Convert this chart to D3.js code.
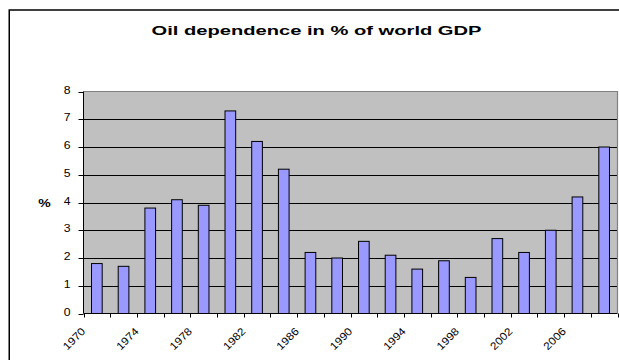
<!DOCTYPE html>
<html>
<head>
<meta charset="utf-8">
<script src="https://cdn.jsdelivr.net/npm/d3@7"></script>
<style>
  body { margin: 0; background: #fff; }
  text { font-family: "Liberation Sans", Arial, sans-serif; }
</style>
</head>
<body>
<div id="chart"></div>
<script>
// data
var years = [1970, 1972, 1974, 1976, 1978, 1980, 1982, 1984, 1986, 1988,
             1990, 1992, 1994, 1996, 1998, 2000, 2002, 2004, 2006, 2008];
var values = [1.8, 1.7, 3.8, 4.1, 3.9, 7.3, 6.2, 5.2, 2.2, 2.0,
              2.6, 2.1, 1.6, 1.9, 1.3, 2.7, 2.2, 3.0, 4.2, 6.0];
var yTicks = [0, 1, 2, 3, 4, 5, 6, 7, 8];
var xLabelYears = [1970, 1974, 1978, 1982, 1986, 1990, 1994, 1998, 2002, 2006];

var W = 619, H = 360;
var plot = {left: 83.5, right: 617.5, top: 91.5, bottom: 313.5};

var svg = d3.select("#chart")
  .append("svg")
  .attr("width", W)
  .attr("height", H);

// outer chart frame (runs off the right and bottom edges)
svg.append("rect")
  .attr("x", 9.25).attr("y", 10)
  .attr("width", 800).attr("height", 500)
  .attr("fill", "#fff")
  .attr("stroke", "#000")
  .attr("stroke-width", 1.5);

// title
svg.append("text")
  .attr("x", 316.5)
  .attr("y", 35)
  .attr("text-anchor", "middle")
  .attr("textLength", 330)
  .attr("lengthAdjust", "spacingAndGlyphs")
  .style("font-size", "13.5px")
  .style("font-weight", "bold")
  .text("Oil dependence in % of world GDP");

// scales
var x = d3.scaleBand()
  .domain(years)
  .range([plot.left, plot.right])
  .padding(0);

var y = d3.scaleLinear()
  .domain([0, 8])
  .range([plot.bottom, plot.top]);

// plot area
svg.append("rect")
  .attr("x", plot.left).attr("y", plot.top)
  .attr("width", plot.right - plot.left)
  .attr("height", plot.bottom - plot.top)
  .attr("fill", "#c0c0c0");

// gridlines
svg.append("g")
  .selectAll("line")
  .data(yTicks.filter(function(d) { return d > 0 && d < 8; }))
  .enter()
  .append("line")
    .attr("x1", plot.left).attr("x2", plot.right)
    .attr("y1", function(d) { return Math.round(y(d)) + 0.5; })
    .attr("y2", function(d) { return Math.round(y(d)) + 0.5; })
    .attr("stroke", "#000")
    .attr("stroke-width", 1);

// plot border top and right
svg.append("path")
  .attr("d", "M" + plot.left + "," + plot.top + "H" + plot.right + "V" + plot.bottom)
  .attr("fill", "none")
  .attr("stroke", "#808080")
  .attr("stroke-width", 1.2);

// bars
var barW = x.bandwidth() * 0.4;
svg.append("g")
  .selectAll("rect")
  .data(values)
  .enter()
  .append("rect")
    .attr("x", function(d, i) { return x(years[i]) + (x.bandwidth() - barW) / 2; })
    .attr("y", function(d) { return y(d); })
    .attr("width", barW)
    .attr("height", function(d) { return y(0) - y(d); })
    .attr("fill", "#9999ff")
    .attr("stroke", "#000")
    .attr("stroke-width", 1);

// y axis
var yAxis = svg.append("g");
yAxis.append("line")
  .attr("x1", plot.left).attr("x2", plot.left)
  .attr("y1", plot.top).attr("y2", plot.bottom)
  .attr("stroke", "#000");
yAxis.selectAll(".tick")
  .data(yTicks)
  .enter()
  .append("line")
    .attr("x1", plot.left - 5).attr("x2", plot.left)
    .attr("y1", function(d) { return Math.round(y(d)) + 0.5; })
    .attr("y2", function(d) { return Math.round(y(d)) + 0.5; })
    .attr("stroke", "#000");
yAxis.selectAll("text")
  .data(yTicks)
  .enter()
  .append("text")
    .attr("x", 70.5)
    .attr("y", function(d) { return y(d) + 2; })
    .attr("text-anchor", "end")
    .attr("textLength", 6.8)
    .attr("lengthAdjust", "spacingAndGlyphs")
    .style("font-size", "10.7px")
    .text(function(d) { return d; });

// y axis title
svg.append("text")
  .attr("x", 44.5)
  .attr("y", y(4) + 4)
  .attr("text-anchor", "middle")
  .attr("textLength", 12.5)
  .attr("lengthAdjust", "spacingAndGlyphs")
  .style("font-size", "10.7px")
  .style("font-weight", "bold")
  .text("%");

// x axis
var xAxis = svg.append("g");
xAxis.append("line")
  .attr("x1", plot.left).attr("x2", plot.right)
  .attr("y1", plot.bottom).attr("y2", plot.bottom)
  .attr("stroke", "#000");
var tickPos = years.map(function(d) { return x(d); }).concat([plot.right]);
xAxis.selectAll(".tick")
  .data(tickPos)
  .enter()
  .append("line")
    .attr("x1", function(d) { return Math.round(d) + 0.5; })
    .attr("x2", function(d) { return Math.round(d) + 0.5; })
    .attr("y1", plot.bottom).attr("y2", plot.bottom + 4)
    .attr("stroke", "#000");
xAxis.selectAll("text")
  .data(xLabelYears)
  .enter()
  .append("text")
    .attr("transform", function(d) {
      return "translate(" + (x(d) + 2.5) + "," + (plot.bottom + 18.5) + ") rotate(-45)";
    })
    .attr("text-anchor", "end")
    .attr("textLength", 26.5)
    .attr("lengthAdjust", "spacingAndGlyphs")
    .style("font-size", "10.7px")
    .text(function(d) { return d; });
</script>
</body>
</html>
